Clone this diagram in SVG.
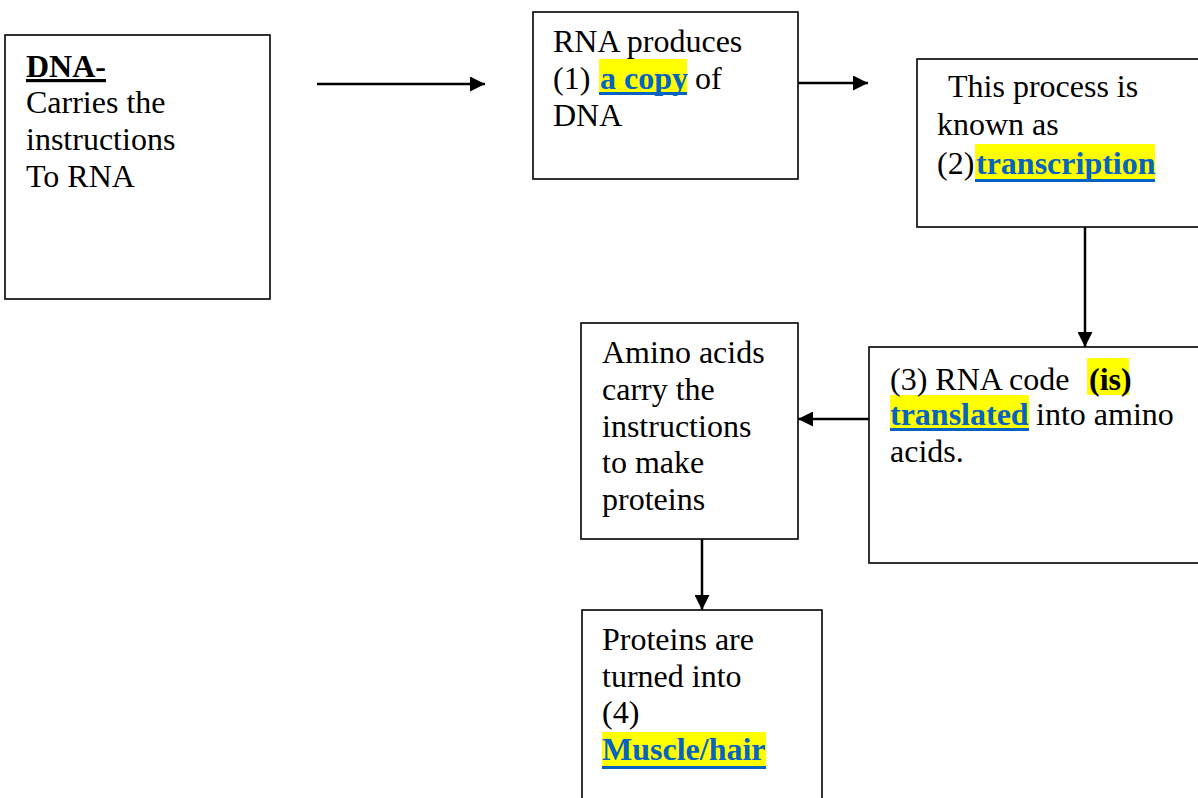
<svg xmlns="http://www.w3.org/2000/svg" width="1198" height="798" viewBox="0 0 1198 798">
<style>
.box{fill:#fff;stroke:#000;stroke-width:1.6}
.t{font-family:"Liberation Serif","Times New Roman",serif;font-size:32px;fill:#000}
.b{font-weight:bold}
.lk{font-weight:bold;fill:#0563C1}
.hl{fill:#ffff00}
.ul{fill:#0563C1}
.c{stroke:#000;stroke-width:2.5;fill:none}
</style>
<defs>
<marker id="ah" viewBox="0 0 10 10" refX="10" refY="5" markerWidth="6" markerHeight="6" orient="auto" markerUnits="strokeWidth">
<path d="M0,0 L10,5 L0,10 z" fill="#000"/>
</marker>
</defs>
<g id="connectors">
<line class="c" x1="317" y1="84" x2="485" y2="84" marker-end="url(#ah)"/>
<line class="c" x1="798" y1="83" x2="868" y2="83" marker-end="url(#ah)"/>
<line class="c" x1="1085" y1="227" x2="1085" y2="347" marker-end="url(#ah)"/>
<line class="c" x1="869" y1="419" x2="798" y2="419" marker-end="url(#ah)"/>
<line class="c" x1="702" y1="539" x2="702" y2="610" marker-end="url(#ah)"/>
</g>
<g id="dna">
<rect class="box" x="5" y="35" width="265" height="264"/>
<text class="t" x="26" y="77"><tspan class="b" text-decoration="underline">DNA-</tspan></text>
<text class="t" x="26" y="113">Carries the</text>
<text class="t" x="26" y="150">instructions</text>
<text class="t" x="26" y="187">To RNA</text>
</g>
<g id="rna">
<rect class="box" x="533" y="12" width="265" height="167"/>
<rect class="hl" x="599" y="59" width="88" height="36"/>
<rect class="ul" x="599" y="92" width="88" height="3"/>
<text class="t" x="553" y="52">RNA produces</text>
<text class="t" x="553" y="89">(1) <tspan class="lk" x="600">a copy</tspan><tspan x="695">of</tspan></text>
<text class="t" x="553" y="126">DNA</text>
</g>
<g id="process">
<rect class="box" x="917" y="59" width="290" height="168"/>
<rect class="hl" x="975" y="144" width="180" height="38"/>
<rect class="ul" x="975" y="179" width="180" height="3"/>
<text class="t" x="948" y="97">This process is</text>
<text class="t" x="937" y="135">known as</text>
<text class="t" x="937" y="174">(2)<tspan class="lk" x="976">transcription</tspan></text>
</g>
<g id="translation">
<rect class="box" x="869" y="347" width="340" height="216"/>
<rect class="hl" x="1087" y="358" width="42" height="37"/>
<rect class="hl" x="890" y="395" width="139" height="36"/>
<rect class="ul" x="890" y="428" width="139" height="3"/>
<text class="t" x="890" y="390">(3) RNA code<tspan class="b" x="1089">(is)</tspan></text>
<text class="t" x="890" y="425"><tspan class="lk">translated</tspan><tspan x="1036">into amino</tspan></text>
<text class="t" x="890" y="462">acids.</text>
</g>
<g id="amino">
<rect class="box" x="581" y="323" width="217" height="216"/>
<text class="t" x="602" y="363">Amino acids</text>
<text class="t" x="602" y="400">carry the</text>
<text class="t" x="602" y="437">instructions</text>
<text class="t" x="602" y="473">to make</text>
<text class="t" x="602" y="510">proteins</text>
</g>
<g id="proteins">
<rect class="box" x="582" y="610" width="240" height="200"/>
<rect class="hl" x="602" y="732" width="164" height="37"/>
<rect class="ul" x="602" y="766" width="164" height="3"/>
<text class="t" x="602" y="650">Proteins are</text>
<text class="t" x="602" y="687">turned into</text>
<text class="t" x="602" y="723">(4)</text>
<text class="t" x="602" y="760"><tspan class="lk">Muscle/hair</tspan></text>
</g>
</svg>
